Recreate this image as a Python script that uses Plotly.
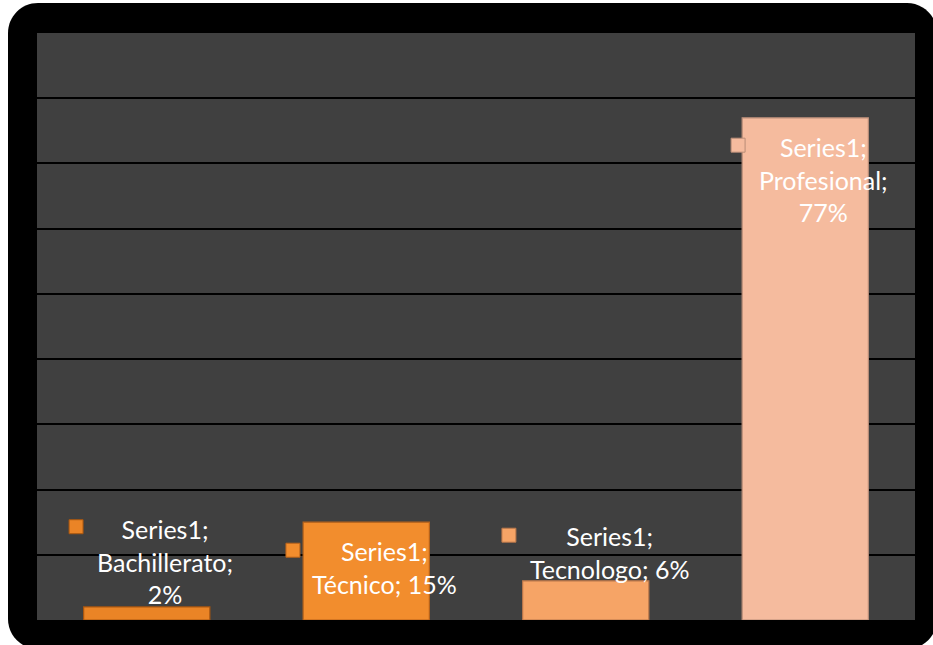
import plotly.graph_objects as go

# ---- data ----
categories = ["Bachillerato", "Técnico", "Tecnologo", "Profesional"]
values = [0.02, 0.15, 0.06, 0.77]
series_name = "Series1"

# ---- styles ----
bar_colors = ["#ea8426", "#f28d2d", "#f6a466", "#f5bb9e"]
bar_edges = ["#a9560f", "#b8631a", "#b8764a", "#b98d78"]
font_family = "Lato, 'Open Sans', sans-serif"

W, H = 933, 645
L, R, T, B = 37, 18, 33, 25
PW, PH = W - L - R, H - T - B
YMAX = 0.9

def px(X):
    return (X - L) / PW

def py(Y):
    return (H - B - Y) / PH

x_idx = list(range(len(categories)))

fig = go.Figure()
fig.add_trace(go.Bar(
    x=x_idx, y=values, width=0.575,
    marker=dict(color=bar_colors, line=dict(color=bar_edges, width=1.2)),
    hoverinfo="skip", showlegend=False,
))

# label layout (offsets relative to each bar)
lbl_dx = [0.083, 0.085, 0.106, 0.081]
lbl_yshift = [45, -45, 28, -62]
lbl_text = [
    f"{series_name};<br>{categories[0]};<br>{values[0]*100:.0f}%",
    f"{series_name};<br>{categories[1]}; {values[1]*100:.0f}%",
    f"{series_name};<br>{categories[2]}; {values[2]*100:.0f}%",
    f"{series_name};<br>{categories[3]};<br>{values[3]*100:.0f}%",
]
mk_dx = [-0.322, -0.334, -0.350, -0.306]
mk_dy = [0.123, -0.043, 0.070, -0.042]

fig.add_trace(go.Scatter(
    x=[i + d for i, d in zip(x_idx, mk_dx)],
    y=[v + d for v, d in zip(values, mk_dy)],
    mode="markers",
    marker=dict(symbol="square", size=14, color=bar_colors,
                line=dict(color=bar_edges, width=1)),
    hoverinfo="skip", showlegend=False,
))

annotations = []
for i in x_idx:
    annotations.append(dict(
        x=i + lbl_dx[i], y=values[i], xref="x", yref="y",
        text=lbl_text[i], showarrow=False, yshift=lbl_yshift[i],
        font=dict(family=font_family, size=25, color="white"),
        align="center", xanchor="center", yanchor="middle",
    ))

# black rounded frame (pixel coords -> paper)
x0, x1, y0, y1, r = 8, 937, 3, 649, 30
k = 0.5523 * r
pts = [
    f"M {px(x0 + r)},{py(y0)}",
    f"L {px(x1 - r)},{py(y0)}",
    f"C {px(x1 - r + k)},{py(y0)} {px(x1)},{py(y0 + r - k)} {px(x1)},{py(y0 + r)}",
    f"L {px(x1)},{py(y1 - r)}",
    f"C {px(x1)},{py(y1 - r + k)} {px(x1 - r + k)},{py(y1)} {px(x1 - r)},{py(y1)}",
    f"L {px(x0 + r)},{py(y1)}",
    f"C {px(x0 + r - k)},{py(y1)} {px(x0)},{py(y1 - r + k)} {px(x0)},{py(y1 - r)}",
    f"L {px(x0)},{py(y0 + r)}",
    f"C {px(x0)},{py(y0 + r - k)} {px(x0 + r - k)},{py(y0)} {px(x0 + r)},{py(y0)}",
    "Z",
]
shapes = [
    dict(type="path", path=" ".join(pts), xref="paper", yref="paper",
         fillcolor="black", line=dict(width=0), layer="below"),
    dict(type="rect", x0=0, x1=1, y0=0, y1=1, xref="paper", yref="paper",
         fillcolor="#404040", line=dict(width=0), layer="below"),
]

fig.update_layout(
    width=W, height=H,
    margin=dict(l=L, r=R, t=T, b=B, pad=0),
    paper_bgcolor="white", plot_bgcolor="rgba(0,0,0,0)",
    shapes=shapes, annotations=annotations,
    xaxis=dict(range=[-0.5, 3.5], showgrid=False, zeroline=False,
               showticklabels=False, showline=False, fixedrange=True),
    yaxis=dict(range=[0, YMAX], dtick=0.1, showgrid=True, gridcolor="black",
               gridwidth=2, zeroline=False, showticklabels=False,
               showline=False, fixedrange=True),
    bargap=0.4,
    font=dict(family=font_family),
)

fig.write_html("out.html", config={"displayModeBar": False})
